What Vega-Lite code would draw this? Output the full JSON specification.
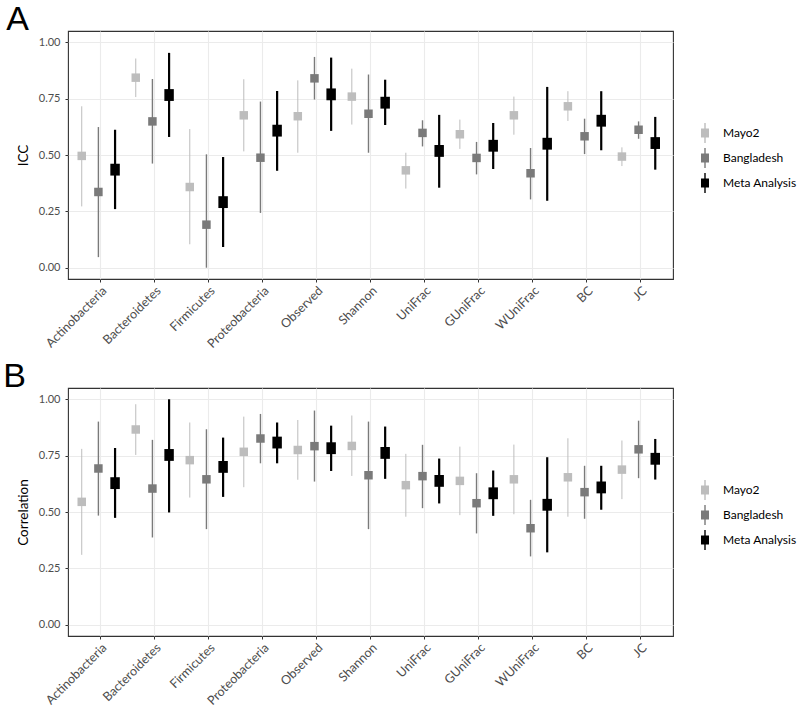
{
  "$schema": "https://vega.github.io/schema/vega-lite/v6.json",
  "padding": {"left": 2, "top": 2, "right": 2, "bottom": 5},
  "background": "white",
  "spacing": 8,
  "datasets": {
    "icc": [
      {"metric": "Actinobacteria", "group": "Mayo2", "est": 0.496, "lo": 0.272, "hi": 0.716},
      {"metric": "Actinobacteria", "group": "Bangladesh", "est": 0.336, "lo": 0.047, "hi": 0.624},
      {"metric": "Actinobacteria", "group": "Meta Analysis", "est": 0.435, "lo": 0.260, "hi": 0.612},
      {"metric": "Bacteroidetes", "group": "Mayo2", "est": 0.843, "lo": 0.757, "hi": 0.928},
      {"metric": "Bacteroidetes", "group": "Bangladesh", "est": 0.649, "lo": 0.462, "hi": 0.837},
      {"metric": "Bacteroidetes", "group": "Meta Analysis", "est": 0.766, "lo": 0.580, "hi": 0.953},
      {"metric": "Firmicutes", "group": "Mayo2", "est": 0.358, "lo": 0.104, "hi": 0.615},
      {"metric": "Firmicutes", "group": "Bangladesh", "est": 0.191, "lo": 0.0, "hi": 0.503},
      {"metric": "Firmicutes", "group": "Meta Analysis", "est": 0.291, "lo": 0.092, "hi": 0.491},
      {"metric": "Proteobacteria", "group": "Mayo2", "est": 0.676, "lo": 0.516, "hi": 0.836},
      {"metric": "Proteobacteria", "group": "Bangladesh", "est": 0.488, "lo": 0.243, "hi": 0.737},
      {"metric": "Proteobacteria", "group": "Meta Analysis", "est": 0.608, "lo": 0.430, "hi": 0.784},
      {"metric": "Observed", "group": "Mayo2", "est": 0.672, "lo": 0.510, "hi": 0.831},
      {"metric": "Observed", "group": "Bangladesh", "est": 0.840, "lo": 0.746, "hi": 0.935},
      {"metric": "Observed", "group": "Meta Analysis", "est": 0.769, "lo": 0.607, "hi": 0.932},
      {"metric": "Shannon", "group": "Mayo2", "est": 0.759, "lo": 0.635, "hi": 0.883},
      {"metric": "Shannon", "group": "Bangladesh", "est": 0.683, "lo": 0.510, "hi": 0.857},
      {"metric": "Shannon", "group": "Meta Analysis", "est": 0.732, "lo": 0.633, "hi": 0.834},
      {"metric": "UniFrac", "group": "Mayo2", "est": 0.432, "lo": 0.351, "hi": 0.510},
      {"metric": "UniFrac", "group": "Bangladesh", "est": 0.598, "lo": 0.538, "hi": 0.654},
      {"metric": "UniFrac", "group": "Meta Analysis", "est": 0.518, "lo": 0.355, "hi": 0.678},
      {"metric": "GUniFrac", "group": "Mayo2", "est": 0.592, "lo": 0.527, "hi": 0.657},
      {"metric": "GUniFrac", "group": "Bangladesh", "est": 0.487, "lo": 0.414, "hi": 0.558},
      {"metric": "GUniFrac", "group": "Meta Analysis", "est": 0.541, "lo": 0.438, "hi": 0.642},
      {"metric": "WUniFrac", "group": "Mayo2", "est": 0.676, "lo": 0.590, "hi": 0.759},
      {"metric": "WUniFrac", "group": "Bangladesh", "est": 0.419, "lo": 0.303, "hi": 0.531},
      {"metric": "WUniFrac", "group": "Meta Analysis", "est": 0.550, "lo": 0.297, "hi": 0.802},
      {"metric": "BC", "group": "Mayo2", "est": 0.716, "lo": 0.651, "hi": 0.783},
      {"metric": "BC", "group": "Bangladesh", "est": 0.583, "lo": 0.504, "hi": 0.661},
      {"metric": "BC", "group": "Meta Analysis", "est": 0.652, "lo": 0.521, "hi": 0.783},
      {"metric": "JC", "group": "Mayo2", "est": 0.493, "lo": 0.451, "hi": 0.534},
      {"metric": "JC", "group": "Bangladesh", "est": 0.612, "lo": 0.572, "hi": 0.649},
      {"metric": "JC", "group": "Meta Analysis", "est": 0.553, "lo": 0.435, "hi": 0.669}
    ],
    "cor": [
      {"metric": "Actinobacteria", "group": "Mayo2", "est": 0.545, "lo": 0.310, "hi": 0.780},
      {"metric": "Actinobacteria", "group": "Bangladesh", "est": 0.693, "lo": 0.484, "hi": 0.901},
      {"metric": "Actinobacteria", "group": "Meta Analysis", "est": 0.628, "lo": 0.474, "hi": 0.784},
      {"metric": "Bacteroidetes", "group": "Mayo2", "est": 0.866, "lo": 0.753, "hi": 0.978},
      {"metric": "Bacteroidetes", "group": "Bangladesh", "est": 0.604, "lo": 0.387, "hi": 0.820},
      {"metric": "Bacteroidetes", "group": "Meta Analysis", "est": 0.753, "lo": 0.498, "hi": 1.0},
      {"metric": "Firmicutes", "group": "Mayo2", "est": 0.730, "lo": 0.564, "hi": 0.897},
      {"metric": "Firmicutes", "group": "Bangladesh", "est": 0.645, "lo": 0.424, "hi": 0.867},
      {"metric": "Firmicutes", "group": "Meta Analysis", "est": 0.700, "lo": 0.567, "hi": 0.830},
      {"metric": "Proteobacteria", "group": "Mayo2", "est": 0.767, "lo": 0.610, "hi": 0.923},
      {"metric": "Proteobacteria", "group": "Bangladesh", "est": 0.826, "lo": 0.716, "hi": 0.935},
      {"metric": "Proteobacteria", "group": "Meta Analysis", "est": 0.808, "lo": 0.716, "hi": 0.897},
      {"metric": "Observed", "group": "Mayo2", "est": 0.775, "lo": 0.643, "hi": 0.908},
      {"metric": "Observed", "group": "Bangladesh", "est": 0.792, "lo": 0.635, "hi": 0.950},
      {"metric": "Observed", "group": "Meta Analysis", "est": 0.783, "lo": 0.682, "hi": 0.883},
      {"metric": "Shannon", "group": "Mayo2", "est": 0.793, "lo": 0.660, "hi": 0.928},
      {"metric": "Shannon", "group": "Bangladesh", "est": 0.663, "lo": 0.424, "hi": 0.901},
      {"metric": "Shannon", "group": "Meta Analysis", "est": 0.762, "lo": 0.647, "hi": 0.879},
      {"metric": "UniFrac", "group": "Mayo2", "est": 0.619, "lo": 0.479, "hi": 0.758},
      {"metric": "UniFrac", "group": "Bangladesh", "est": 0.659, "lo": 0.517, "hi": 0.798},
      {"metric": "UniFrac", "group": "Meta Analysis", "est": 0.638, "lo": 0.538, "hi": 0.737},
      {"metric": "GUniFrac", "group": "Mayo2", "est": 0.638, "lo": 0.486, "hi": 0.790},
      {"metric": "GUniFrac", "group": "Bangladesh", "est": 0.539, "lo": 0.405, "hi": 0.672},
      {"metric": "GUniFrac", "group": "Meta Analysis", "est": 0.583, "lo": 0.483, "hi": 0.684},
      {"metric": "WUniFrac", "group": "Mayo2", "est": 0.645, "lo": 0.490, "hi": 0.799},
      {"metric": "WUniFrac", "group": "Bangladesh", "est": 0.428, "lo": 0.303, "hi": 0.554},
      {"metric": "WUniFrac", "group": "Meta Analysis", "est": 0.532, "lo": 0.321, "hi": 0.743},
      {"metric": "BC", "group": "Mayo2", "est": 0.654, "lo": 0.479, "hi": 0.827},
      {"metric": "BC", "group": "Bangladesh", "est": 0.588, "lo": 0.470, "hi": 0.705},
      {"metric": "BC", "group": "Meta Analysis", "est": 0.609, "lo": 0.510, "hi": 0.705},
      {"metric": "JC", "group": "Mayo2", "est": 0.688, "lo": 0.557, "hi": 0.817},
      {"metric": "JC", "group": "Bangladesh", "est": 0.778, "lo": 0.650, "hi": 0.905},
      {"metric": "JC", "group": "Meta Analysis", "est": 0.736, "lo": 0.644, "hi": 0.824}
    ]
  },
  "vconcat": [
    {
      "title": {"text": "A", "anchor": "start", "frame": "bounds", "fontSize": 34, "font": "Liberation Sans", "fontWeight": "normal", "color": "black", "dx": -10, "offset": -6},
      "width": 605,
      "height": 248,
      "data": {"name": "icc"},
      "encoding": {
        "x": {"field": "metric", "type": "nominal", "sort": ["Actinobacteria", "Bacteroidetes", "Firmicutes", "Proteobacteria", "Observed", "Shannon", "UniFrac", "GUniFrac", "WUniFrac", "BC", "JC"], "scale": {"paddingInner": 0, "paddingOuter": 0.1}, "title": null, "axis": {"labelAngle": -45, "labelAlign": "right", "labelBaseline": "top", "labelPadding": 2, "labelFontSize": 12.5}},
        "xOffset": {"field": "group", "type": "nominal", "sort": ["Mayo2", "Bangladesh", "Meta Analysis"], "scale": {"domain": ["Mayo2", "Bangladesh", "Meta Analysis"], "range": [0, 50], "paddingInner": 0, "paddingOuter": 0}},
        "color": {"field": "group", "type": "nominal", "sort": ["Mayo2", "Bangladesh", "Meta Analysis"], "scale": {"domain": ["Mayo2", "Bangladesh", "Meta Analysis"], "range": ["#bdbdbd", "#7a7a7a", "#000000"]}, "legend": {"title": null, "orient": "none", "legendX": 627, "legendY": 92, "padding": 0, "symbolType": "M-0.4,-0.45H0.4V0.45H-0.4Z M-0.07,-1H0.07V1H-0.07Z", "symbolSize": 400, "symbolStrokeWidth": 0, "symbolOpacity": 1, "rowPadding": 5, "labelOffset": 8, "labelFontSize": 12, "labelFont": "Lato", "labelColor": "black"}}
      },
      "layer": [
        {
          "transform": [{"filter": "datum.group == 'Mayo2'"}],
          "mark": {"type": "rule", "strokeWidth": 1},
          "encoding": {
            "y": {"field": "lo", "type": "quantitative", "scale": {"domain": [-0.05, 1.05], "nice": false, "zero": false}, "title": "ICC", "axis": {"values": [0, 0.125, 0.25, 0.375, 0.5, 0.625, 0.75, 0.875, 1], "labelExpr": "datum.value % 0.25 == 0 ? format(datum.value, '.2f') : ''", "gridWidth": {"condition": {"test": "datum.value % 0.25 == 0", "value": 1.1}, "value": 0.6}, "tickOpacity": {"condition": {"test": "datum.value % 0.25 == 0", "value": 1}, "value": 0}}},
            "y2": {"field": "hi"}
          }
        },
        {
          "transform": [{"filter": "datum.group == 'Bangladesh'"}],
          "mark": {"type": "rule", "strokeWidth": 1.4},
          "encoding": {"y": {"field": "lo", "type": "quantitative"}, "y2": {"field": "hi"}}
        },
        {
          "transform": [{"filter": "datum.group == 'Meta Analysis'"}],
          "mark": {"type": "rule", "strokeWidth": 2.2},
          "encoding": {"y": {"field": "lo", "type": "quantitative"}, "y2": {"field": "hi"}}
        },
        {
          "transform": [{"filter": "datum.group != 'Meta Analysis'"}],
          "mark": {"type": "point", "filled": true, "opacity": 1, "strokeWidth": 0, "shape": "square", "size": 72},
          "encoding": {"y": {"field": "est", "type": "quantitative"}}
        },
        {
          "transform": [{"filter": "datum.group == 'Meta Analysis'"}],
          "mark": {"type": "point", "filled": true, "opacity": 1, "strokeWidth": 0, "shape": "M-0.8,-1H0.8V1H-0.8Z", "size": 140},
          "encoding": {"y": {"field": "est", "type": "quantitative"}}
        }
      ]
    },
    {
      "title": {"text": "B", "anchor": "start", "frame": "bounds", "fontSize": 34, "font": "Liberation Sans", "fontWeight": "normal", "color": "black", "dx": -13, "offset": -6},
      "width": 605,
      "height": 248,
      "data": {"name": "cor"},
      "encoding": {
        "x": {"field": "metric", "type": "nominal", "sort": ["Actinobacteria", "Bacteroidetes", "Firmicutes", "Proteobacteria", "Observed", "Shannon", "UniFrac", "GUniFrac", "WUniFrac", "BC", "JC"], "scale": {"paddingInner": 0, "paddingOuter": 0.1}, "title": null, "axis": {"labelAngle": -45, "labelAlign": "right", "labelBaseline": "top", "labelPadding": 2, "labelFontSize": 12.5}},
        "xOffset": {"field": "group", "type": "nominal", "sort": ["Mayo2", "Bangladesh", "Meta Analysis"], "scale": {"domain": ["Mayo2", "Bangladesh", "Meta Analysis"], "range": [0, 50], "paddingInner": 0, "paddingOuter": 0}},
        "color": {"field": "group", "type": "nominal", "sort": ["Mayo2", "Bangladesh", "Meta Analysis"], "scale": {"domain": ["Mayo2", "Bangladesh", "Meta Analysis"], "range": ["#bdbdbd", "#7a7a7a", "#000000"]}, "legend": {"title": null, "orient": "none", "legendX": 627, "legendY": 92, "padding": 0, "symbolType": "M-0.4,-0.45H0.4V0.45H-0.4Z M-0.07,-1H0.07V1H-0.07Z", "symbolSize": 400, "symbolStrokeWidth": 0, "symbolOpacity": 1, "rowPadding": 5, "labelOffset": 8, "labelFontSize": 12, "labelFont": "Lato", "labelColor": "black"}}
      },
      "layer": [
        {
          "transform": [{"filter": "datum.group == 'Mayo2'"}],
          "mark": {"type": "rule", "strokeWidth": 1},
          "encoding": {
            "y": {"field": "lo", "type": "quantitative", "scale": {"domain": [-0.05, 1.05], "nice": false, "zero": false}, "title": "Correlation", "axis": {"values": [0, 0.125, 0.25, 0.375, 0.5, 0.625, 0.75, 0.875, 1], "labelExpr": "datum.value % 0.25 == 0 ? format(datum.value, '.2f') : ''", "gridWidth": {"condition": {"test": "datum.value % 0.25 == 0", "value": 1.1}, "value": 0.6}, "tickOpacity": {"condition": {"test": "datum.value % 0.25 == 0", "value": 1}, "value": 0}}},
            "y2": {"field": "hi"}
          }
        },
        {
          "transform": [{"filter": "datum.group == 'Bangladesh'"}],
          "mark": {"type": "rule", "strokeWidth": 1.4},
          "encoding": {"y": {"field": "lo", "type": "quantitative"}, "y2": {"field": "hi"}}
        },
        {
          "transform": [{"filter": "datum.group == 'Meta Analysis'"}],
          "mark": {"type": "rule", "strokeWidth": 2.2},
          "encoding": {"y": {"field": "lo", "type": "quantitative"}, "y2": {"field": "hi"}}
        },
        {
          "transform": [{"filter": "datum.group != 'Meta Analysis'"}],
          "mark": {"type": "point", "filled": true, "opacity": 1, "strokeWidth": 0, "shape": "square", "size": 72},
          "encoding": {"y": {"field": "est", "type": "quantitative"}}
        },
        {
          "transform": [{"filter": "datum.group == 'Meta Analysis'"}],
          "mark": {"type": "point", "filled": true, "opacity": 1, "strokeWidth": 0, "shape": "M-0.8,-1H0.8V1H-0.8Z", "size": 140},
          "encoding": {"y": {"field": "est", "type": "quantitative"}}
        }
      ]
    }
  ],
  "resolve": {"scale": {"color": "independent"}, "legend": {"color": "independent"}},
  "config": {
    "view": {"stroke": "#333333", "strokeWidth": 1.1},
    "font": "Lato",
    "axis": {"domain": false, "grid": true, "gridColor": "#ebebeb", "gridWidth": 1.1, "tickColor": "#333333", "tickSize": 3, "labelColor": "#4d4d4d", "labelFont": "Lato", "labelFontSize": 11, "labelPadding": 5, "titleFont": "Lato", "titleFontSize": 13.5, "titleFontWeight": "normal", "titleColor": "black", "titlePadding": 8}
  }
}
